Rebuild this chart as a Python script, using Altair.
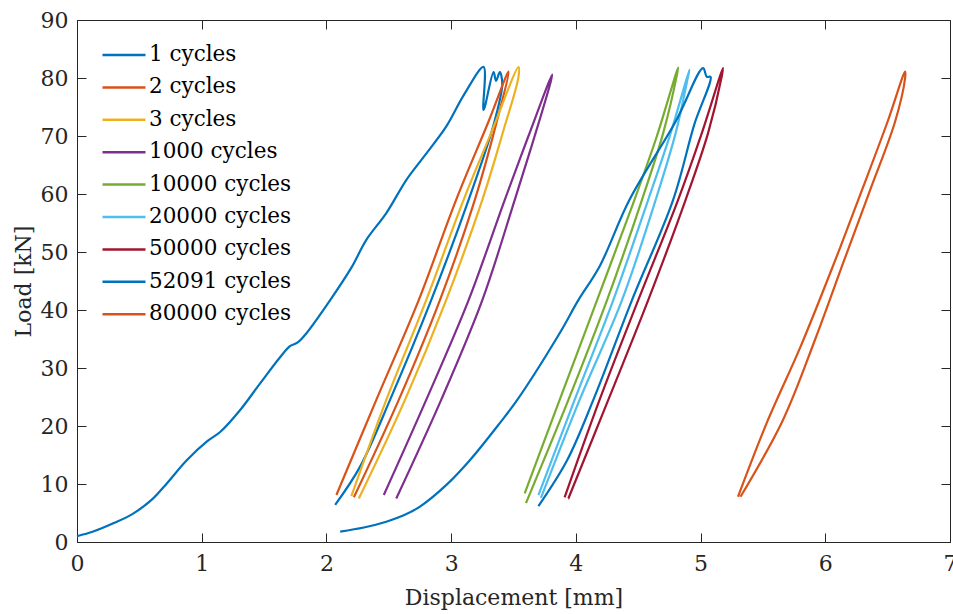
import altair as alt
import pandas as pd

# ---------------- data ----------------
series_names = ["1 cycles", "2 cycles", "3 cycles", "1000 cycles", "10000 cycles",
                "20000 cycles", "50000 cycles", "52091 cycles", "80000 cycles"]
series_colors = ["#0072BD", "#D95319", "#EDB120", "#7E2F8E", "#77AC30",
                 "#4DBEEE", "#A2142F", "#0072BD", "#D95319"]

x_1 = [0.00, 0.13, 0.30, 0.45, 0.60, 0.72, 0.88, 1.04, 1.15, 1.31, 1.47, 1.63, 1.71, 1.77,
       1.84, 2.03, 2.20, 2.32, 2.48, 2.64, 2.78, 2.96, 3.10, 3.26, 3.26, 3.34, 3.36, 3.39,
       3.41, 3.34, 3.14, 2.84, 2.51, 2.27, 2.07]
y_1 = [1.0, 1.8, 3.3, 4.9, 7.3, 10.1, 14.1, 17.3, 19.0, 22.8, 27.4, 31.9, 33.8, 34.4,
       36.0, 41.7, 47.3, 52.1, 56.7, 62.4, 66.4, 71.6, 77.0, 81.9, 74.5, 81.0, 79.5, 81.0,
       79.0, 71.9, 59.0, 41.7, 24.5, 13.0, 6.4]

x_2 = [2.22, 2.58, 2.91, 3.19, 3.36, 3.46, 3.30, 3.04, 2.74, 2.40, 2.08]
y_2 = [7.7, 24.5, 41.7, 59.0, 72.0, 81.1, 72.5, 59.0, 41.7, 24.5, 8.1]

x_3 = [2.20, 2.48, 2.80, 3.10, 3.32, 3.54, 3.54, 3.42, 3.25, 2.96, 2.63, 2.26]
y_3 = [7.9, 24.5, 41.7, 59.0, 70.5, 81.9, 80.2, 71.0, 59.0, 41.7, 24.5, 7.5]

x_1000 = [2.46, 2.80, 3.14, 3.43, 3.62, 3.81, 3.80, 3.67, 3.51, 3.25, 2.92, 2.56]
y_1000 = [8.1, 24.5, 41.7, 59.0, 70.0, 80.6, 79.5, 70.0, 59.0, 41.7, 24.5, 7.5]

x_10000 = [3.59, 3.87, 4.17, 4.47, 4.65, 4.82, 4.81, 4.70, 4.53, 4.25, 3.94, 3.60]
y_10000 = [8.4, 24.5, 41.7, 59.0, 70.0, 81.8, 80.5, 70.5, 59.0, 41.7, 24.5, 6.7]

x_20000 = [3.70, 3.99, 4.30, 4.58, 4.76, 4.91, 4.90, 4.80, 4.64, 4.37, 4.03, 3.72]
y_20000 = [8.1, 24.5, 41.7, 59.0, 70.5, 81.4, 80.3, 70.5, 59.0, 41.7, 24.5, 7.6]

x_50000 = [3.91, 4.19, 4.50, 4.82, 5.01, 5.18, 5.17, 5.06, 4.88, 4.58, 4.26, 3.94]
y_50000 = [7.7, 24.5, 41.7, 59.0, 70.5, 81.7, 80.3, 70.5, 59.0, 41.7, 24.5, 7.5]

x_52091 = [2.11, 2.30, 2.48, 2.62, 2.75, 2.96, 3.15, 3.39, 3.53, 3.87, 4.02, 4.19, 4.43,
           4.80, 5.02, 5.05, 5.08, 4.95, 4.78, 4.45, 4.14, 3.93, 3.70]
y_52091 = [1.8, 2.5, 3.5, 4.6, 6.1, 9.8, 14.1, 20.5, 24.5, 36.0, 41.7, 47.5, 59.0,
           72.5, 81.7, 80.2, 80.2, 72.0, 59.0, 41.7, 24.5, 14.1, 6.2]

x_80000 = [5.30, 5.53, 5.80, 6.06, 6.30, 6.50, 6.64, 6.64, 6.56, 6.36, 6.15, 5.92, 5.66, 5.32]
y_80000 = [7.8, 20.5, 33.6, 47.5, 61.0, 72.5, 81.1, 80.0, 72.5, 60.7, 48.5, 35.0, 21.0, 7.8]

x_ticks = [0, 1, 2, 3, 4, 5, 6, 7]
y_ticks = [0, 10, 20, 30, 40, 50, 60, 70, 80, 90]

all_x = [x_1, x_2, x_3, x_1000, x_10000, x_20000, x_50000, x_52091, x_80000]
all_y = [y_1, y_2, y_3, y_1000, y_10000, y_20000, y_50000, y_52091, y_80000]

rows = []
for name, xs, ys in zip(series_names, all_x, all_y):
    for i, (a, b) in enumerate(zip(xs, ys)):
        rows.append({"series": name, "idx": i, "x": a, "y": b})
df = pd.DataFrame(rows)

# ---------------- chart ----------------
W, H = 873, 522
FONT = "DejaVu Serif"
TXT = "#262626"

xscale = alt.Scale(domain=[0, 7], nice=False, zero=False)
yscale = alt.Scale(domain=[0, 90], nice=False, zero=False)

base = alt.Chart(df)

lines = base.mark_line(strokeWidth=2.2, interpolate="catmull-rom").encode(
    x=alt.X("x:Q", scale=xscale,
            axis=alt.Axis(orient="bottom", values=x_ticks, title="Displacement [mm]",
                          ticks=False, domain=False, grid=False, labelPadding=11,
                          titlePadding=13, labelFlush=False)),
    y=alt.Y("y:Q", scale=yscale,
            axis=alt.Axis(orient="left", values=y_ticks, title="Load [kN]",
                          ticks=False, domain=False, grid=False, labelPadding=9,
                          titlePadding=5, labelFlush=False)),
    color=alt.Color("series:N", sort=series_names,
                    scale=alt.Scale(domain=series_names, range=series_colors),
                    legend=alt.Legend(title=None, orient="none", legendX=24, legendY=22,
                                      symbolType="stroke", symbolSize=1849,
                                      symbolStrokeWidth=2.5, clipHeight=26, rowPadding=6.4,
                                      labelFont=FONT, labelFontSize=21.5, labelColor="#000000",
                                      labelOffset=2, padding=0, labelLimit=400)),
    order="idx:Q",
)

tick_axis = dict(labels=False, domain=False, grid=False, ticks=True, tickSize=9,
                 tickColor=TXT, tickWidth=1, title=None)

ticks_in_a = base.mark_line(strokeOpacity=0).encode(
    x=alt.X("x:Q", scale=xscale, axis=alt.Axis(orient="top", offset=-H, values=x_ticks, **tick_axis)),
    y=alt.Y("y:Q", scale=yscale, axis=alt.Axis(orient="right", offset=-W, values=y_ticks, **tick_axis)),
    detail="series:N",
    order="idx:Q",
)

ticks_in_b = base.mark_line(strokeOpacity=0).encode(
    x=alt.X("x:Q", scale=xscale, axis=alt.Axis(orient="bottom", offset=-H, values=x_ticks, **tick_axis)),
    y=alt.Y("y:Q", scale=yscale, axis=alt.Axis(orient="left", offset=-W, values=y_ticks, **tick_axis)),
    detail="series:N",
    order="idx:Q",
)

chart = alt.layer(lines, ticks_in_a, ticks_in_b).resolve_axis(
    x="independent", y="independent"
).properties(
    width=W, height=H,
    padding={"left": 77, "top": 20, "right": 3, "bottom": 72},
    autosize=alt.AutoSizeParams(type="none"),
    background="white",
).configure_view(
    stroke=TXT, strokeWidth=1
).configure_axis(
    labelFont=FONT, labelFontSize=22, labelColor=TXT,
    titleFont=FONT, titleFontSize=22, titleColor=TXT, titleFontWeight="normal",
)

chart.save("out.html", embed_options={"renderer": "svg", "actions": False})
